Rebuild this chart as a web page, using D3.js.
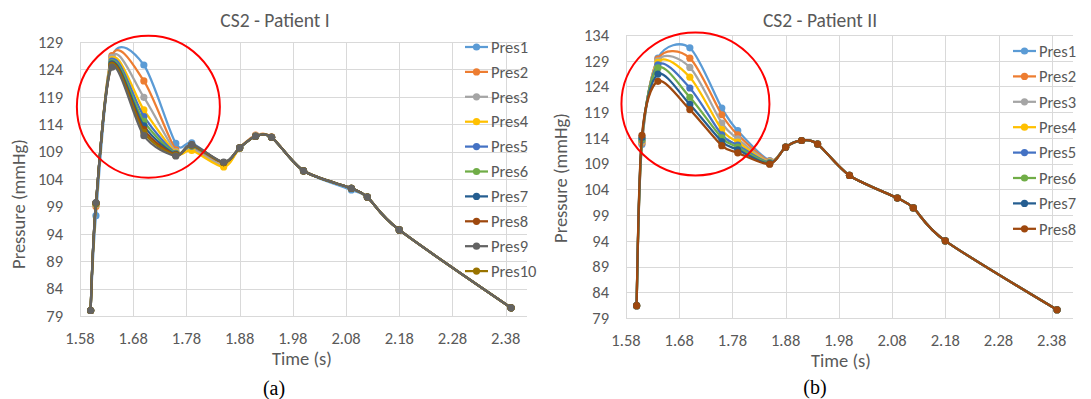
<!DOCTYPE html>
<html>
<head>
<meta charset="utf-8">
<script src="https://cdn.jsdelivr.net/npm/d3@7"></script>
<style>
  body { margin: 0; background: #fff; }
  svg { display: block; }
  text { font-family: Carlito, Calibri, Lato, sans-serif; fill: #595959; }
  .caption { font-family: "Liberation Serif", "Times New Roman", serif; fill: #000; }
</style>
</head>
<body>
<script>
"use strict";

/*
 * CS2 pressure curves for two patients, Pres1..PresN.
 */

const times = [1.60, 1.61, 1.64, 1.70, 1.76, 1.79, 1.85, 1.88, 1.91, 1.94, 2.00, 2.09, 2.12, 2.18, 2.39];
const xTicks = [1.58, 1.68, 1.78, 1.88, 1.98, 2.08, 2.18, 2.28, 2.38];

const yTicksA = [79, 84, 89, 94, 99, 104, 109, 114, 119, 124, 129];
const yTicksB = [79, 84, 89, 94, 99, 104, 109, 114, 119, 124, 129, 134];

const namesA = ["Pres1", "Pres2", "Pres3", "Pres4", "Pres5", "Pres6", "Pres7", "Pres8", "Pres9", "Pres10"];
const namesB = ["Pres1", "Pres2", "Pres3", "Pres4", "Pres5", "Pres6", "Pres7", "Pres8"];

const colors = ["#5B9BD5", "#ED7D31", "#A5A5A5", "#FFC000", "#4472C4",
                "#70AD47", "#255E91", "#9E480E", "#636363", "#997300"];

// Patient I
const pres1A = [80.0, 97.3, 126.2, 124.8, 110.5, 110.6, 106.8, 109.6, 111.8, 111.6, 105.5, 102.0, 100.7, 94.7, 80.5];
const pres2A = [80.0, 99.0, 126.5, 121.9, 109.3, 109.8, 106.7, 109.7, 112.0, 111.7, 105.5, 102.3, 100.7, 94.7, 80.5];
const pres3A = [80.0, 99.3, 126.2, 118.9, 109.0, 109.5, 106.5, 109.7, 111.9, 111.6, 105.5, 102.3, 100.7, 94.7, 80.5];
const pres4A = [80.0, 99.4, 125.8, 116.6, 108.8, 109.2, 106.2, 109.6, 111.8, 111.6, 105.5, 102.3, 100.7, 94.7, 80.5];
const pres5A = [80.0, 99.5, 125.5, 115.4, 108.7, 110.0, 107.0, 109.7, 111.8, 111.6, 105.5, 102.3, 100.7, 94.7, 80.5];
const pres6A = [80.0, 99.5, 125.2, 114.5, 108.6, 110.1, 107.0, 109.7, 111.8, 111.6, 105.5, 102.3, 100.7, 94.7, 80.5];
const pres7A = [80.0, 99.6, 125.0, 113.7, 108.5, 110.2, 107.0, 109.7, 111.8, 111.6, 105.5, 102.3, 100.7, 94.7, 80.5];
const pres8A = [80.0, 99.6, 124.8, 113.0, 108.4, 110.2, 107.0, 109.7, 111.8, 111.6, 105.5, 102.3, 100.7, 94.7, 80.5];
const pres9A = [80.0, 99.7, 124.4, 111.9, 108.2, 110.3, 107.1, 109.7, 111.8, 111.6, 105.5, 102.3, 100.7, 94.7, 80.5];
const pres10A = [80.0, 99.6, 124.7, 112.5, 108.3, 110.2, 107.0, 109.7, 111.8, 111.6, 105.5, 102.3, 100.7, 94.7, 80.5];

// Patient II
const pres1B = [81.4, 112.7, 129.5, 131.5, 119.8, 115.4, 109.6, 112.2, 113.5, 112.8, 106.7, 102.3, 100.4, 94.0, 80.6];
const pres2B = [81.4, 113.0, 129.3, 129.5, 118.5, 114.6, 109.5, 112.2, 113.5, 112.8, 106.7, 102.3, 100.4, 94.0, 80.6];
const pres3B = [81.4, 113.2, 129.0, 127.7, 116.9, 113.8, 109.4, 112.2, 113.5, 112.8, 106.7, 102.3, 100.4, 94.0, 80.6];
const pres4B = [81.4, 113.4, 128.7, 125.8, 115.6, 113.2, 109.3, 112.2, 113.5, 112.8, 106.7, 102.3, 100.4, 94.0, 80.6];
const pres5B = [81.4, 113.6, 128.2, 123.7, 114.6, 112.6, 109.2, 112.2, 113.5, 112.8, 106.7, 102.3, 100.4, 94.0, 80.6];
const pres6B = [81.4, 113.8, 127.6, 121.9, 114.0, 112.2, 109.1, 112.2, 113.5, 112.8, 106.7, 102.3, 100.4, 94.0, 80.6];
const pres7B = [81.4, 114.1, 126.4, 120.5, 113.3, 111.7, 109.0, 112.2, 113.5, 112.8, 106.7, 102.3, 100.4, 94.0, 80.6];
const pres8B = [81.4, 114.5, 125.0, 119.5, 112.5, 111.1, 108.9, 112.2, 113.5, 112.8, 106.7, 102.3, 100.4, 94.0, 80.6];

const seriesA = [pres1A, pres2A, pres3A, pres4A, pres5A, pres6A, pres7A, pres8A, pres9A, pres10A];
const seriesB = [pres1B, pres2B, pres3B, pres4B, pres5B, pres6B, pres7B, pres8B];

const width = 1091;
const height = 399;

let svg = d3.select("body").append("svg")
    .attr("width", width)
    .attr("height", height);

svg.append("rect")
  .attr("width", width)
  .attr("height", height)
  .attr("fill", "#fff");

drawChart({
  title: "CS2 - Patient I",
  caption: "(a)",
  names: namesA,
  series: seriesA,
  yTicks: yTicksA,
  left: 80, right: 527, top: 42, bottom: 316,
  titleX: 275, titleY: 20,
  yLabelX: 19, yLabelY: 204,
  xLabelX: 302, xLabelY: 359,
  tickY: 338,
  captionX: 274, captionY: 395,
  legendX: 465, legendY: 47, legendStep: 24.9,
  // red ring around the peaks, centre in data units
  ring: {t: 1.7085, p: 117.2, rx: 71.5, ry: 71},
  order: [0, 1, 2, 3, 4, 5, 6, 7, 9, 8]
});

drawChart({
  title: "CS2 - Patient II",
  caption: "(b)",
  names: namesB,
  series: seriesB,
  yTicks: yTicksB,
  left: 626, right: 1073, top: 35, bottom: 318,
  titleX: 820, titleY: 20,
  yLabelX: 561, yLabelY: 178,
  xLabelX: 841, xLabelY: 361,
  tickY: 340,
  captionX: 815, captionY: 394,
  legendX: 1013, legendY: 51, legendStep: 25.4,
  ring: {t: 1.7105, p: 120.6, rx: 74, ry: 71.5},
  order: [0, 1, 2, 3, 4, 5, 6, 7]
});

function drawChart(c) {
  let yMin = c.yTicks[0];
  let yMax = c.yTicks[c.yTicks.length - 1];

  let x = d3.scaleLinear().domain([1.58, 2.42]).range([c.left, c.right]);
  let y = d3.scaleLinear().domain([yMin, yMax]).range([c.bottom, c.top]);

  let g = svg.append("g");

  // grid
  g.append("g").selectAll("line")
    .data(c.yTicks)
    .enter().append("line")
    .attr("x1", c.left).attr("x2", c.right)
    .attr("y1", d => Math.round(y(d)) + 0.5)
    .attr("y2", d => Math.round(y(d)) + 0.5)
    .attr("stroke", "#D9D9D9")
    .attr("stroke-width", 1);

  g.append("g").selectAll("line")
    .data(xTicks)
    .enter().append("line")
    .attr("x1", d => Math.round(x(d)) + 0.5)
    .attr("x2", d => Math.round(x(d)) + 0.5)
    .attr("y1", c.top).attr("y2", c.bottom)
    .attr("stroke", "#D9D9D9")
    .attr("stroke-width", 1);

  // tick labels
  g.append("g").selectAll("text")
    .data(c.yTicks)
    .enter().append("text")
    .attr("x", c.left - 17)
    .attr("y", d => y(d))
    .attr("dy", "0.35em")
    .attr("text-anchor", "end")
    .attr("font-size", 16.5)
    .text(d => d);

  g.append("g").selectAll("text")
    .data(xTicks)
    .enter().append("text")
    .attr("x", d => x(d))
    .attr("y", c.tickY)
    .attr("dy", "0.35em")
    .attr("text-anchor", "middle")
    .attr("font-size", 16.5)
    .text(d => d3.format(".2f")(d));

  // titles
  g.append("text")
    .attr("x", c.titleX)
    .attr("y", c.titleY)
    .attr("dy", "0.35em")
    .attr("text-anchor", "middle")
    .attr("font-size", 19.5)
    .text(c.title);

  g.append("text")
    .attr("transform", `translate(${c.yLabelX},${c.yLabelY}) rotate(-90)`)
    .attr("dy", "0.35em")
    .attr("text-anchor", "middle")
    .attr("font-size", 18.5)
    .text("Pressure (mmHg)");

  g.append("text")
    .attr("x", c.xLabelX)
    .attr("y", c.xLabelY)
    .attr("dy", "0.35em")
    .attr("text-anchor", "middle")
    .attr("font-size", 18.5)
    .text("Time (s)");

  g.append("text")
    .attr("class", "caption")
    .attr("x", c.captionX)
    .attr("y", c.captionY)
    .attr("text-anchor", "middle")
    .attr("font-size", 20)
    .text(c.caption);

  // series
  let line = d3.line()
      .x((d, i) => x(times[i]))
      .y(d => y(d))
      .curve(d3.curveCardinal.tension(0.15));

  for (let k of c.order) {
    let s = g.append("g");
    s.append("path")
      .attr("d", line(c.series[k]))
      .attr("fill", "none")
      .attr("stroke", colors[k])
      .attr("stroke-width", 2.25)
      .attr("stroke-linejoin", "round");
    s.selectAll("circle")
      .data(c.series[k])
      .enter().append("circle")
      .attr("cx", (d, i) => x(times[i]))
      .attr("cy", d => y(d))
      .attr("r", 3.6)
      .attr("fill", colors[k]);
  }

  // legend
  let legend = g.append("g").selectAll("g")
      .data(c.names)
      .enter().append("g")
      .attr("transform", (d, i) => `translate(${c.legendX},${c.legendY + i * c.legendStep})`);
  legend.append("line")
    .attr("x1", 0).attr("x2", 23)
    .attr("stroke", (d, i) => colors[i])
    .attr("stroke-width", 2.25);
  legend.append("circle")
    .attr("cx", 11.5)
    .attr("r", 3.6)
    .attr("fill", (d, i) => colors[i]);
  legend.append("text")
    .attr("x", 26)
    .attr("dy", "0.35em")
    .attr("font-size", 16.5)
    .text(d => d);

  g.append("ellipse")
    .attr("cx", x(c.ring.t))
    .attr("cy", y(c.ring.p))
    .attr("rx", c.ring.rx)
    .attr("ry", c.ring.ry)
    .attr("fill", "none")
    .attr("stroke", "#FF0000")
    .attr("stroke-width", 2);
}
</script>
</body>
</html>
